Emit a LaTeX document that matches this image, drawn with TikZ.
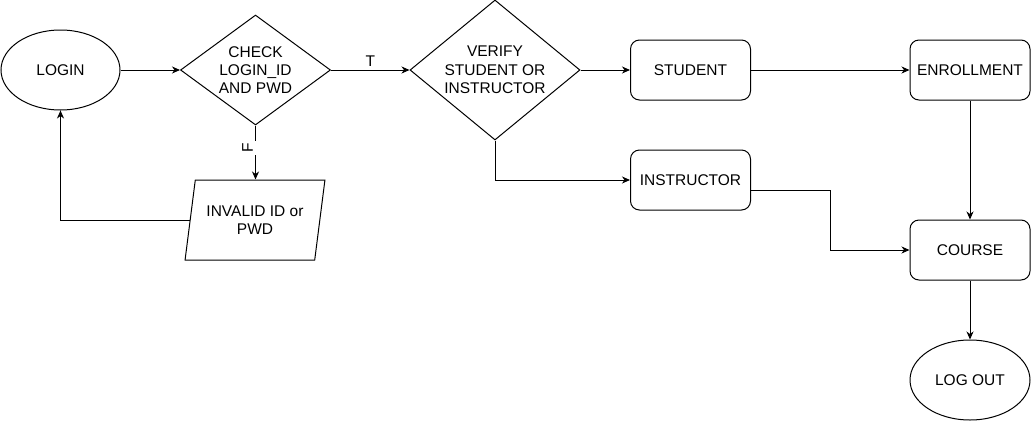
\documentclass[tikz,border=0pt]{standalone}
\usepackage{fontspec}
\setmainfont{Liberation Sans}
\usepackage{tikz}
\usetikzlibrary{shapes.geometric, arrows.meta}

\begin{document}
\begin{tikzpicture}[x=1pt, y=1pt, line width=1pt,
    every node/.style={font=\fontsize{15.5}{18.3}\selectfont, align=center},
    oval/.style={draw, ellipse, minimum width=119pt, minimum height=80pt, inner sep=0pt},
    decision/.style={draw, diamond, inner sep=0pt},
    box/.style={draw, rectangle, rounded corners=9pt, minimum width=120pt, minimum height=60pt},
    io/.style={draw, trapezium, trapezium left angle=76, trapezium right angle=104, trapezium stretches=true, minimum width=140pt, minimum height=80pt},
    flow/.style={-{Stealth[length=8pt, width=7pt, inset=2.5pt]}},
    flabel/.style={pos=0.42, xshift=-8pt, rotate=90, fill=white, inner xsep=2.5pt, inner ysep=6pt}]
      \useasboundingbox (0,0) rectangle (1031,-421);
      \node [oval] (login) at (60.5,-70) {LOGIN};
      \node [decision, aspect=1.36, minimum width=150pt, minimum height=110pt] (check) at (255.5,-70) {CHECK\\LOGIN\_ID\\AND PWD};
      \node [decision, aspect=1.21, minimum width=170pt, minimum height=140pt] (verify) at (495,-70) {VERIFY\\STUDENT OR\\INSTRUCTOR};
      \node [box] (student) at (690.5,-70) {STUDENT};
      \node [box] (instr) at (690.5,-180) {INSTRUCTOR};
      \node [box] (enroll) at (970,-70) {ENROLLMENT};
      \node [box] (course) at (970,-250) {COURSE};
      \node [oval, minimum width=120pt] (logout) at (970,-380) {LOG OUT};
      \node [io] (invalid) at (255,-220) {INVALID ID or\\PWD};
      \coordinate (turn) at (830,-190);
      \draw [flow] (login.east) -- (check.west);
      \draw [flow] (check.east) -- node [above] {T} (verify.west);
      \draw [flow] (check.south) -- node [flabel] {F} (check.south |- invalid.north);
      \draw [flow] (invalid.west) -| (login.south);
      \draw [flow] (verify.east) -- (student.west);
      \draw [flow] (verify.south) |- (instr.west);
      \draw [flow] (student.east) -- (enroll.west);
      \draw [flow] (enroll.south) -- (course.north);
      \draw [flow] ([yshift=-10pt]instr.east) -- (turn) |- (course.west);
      \draw [flow] (course.south) -- (logout.north);
    \end{tikzpicture}
\end{document}
